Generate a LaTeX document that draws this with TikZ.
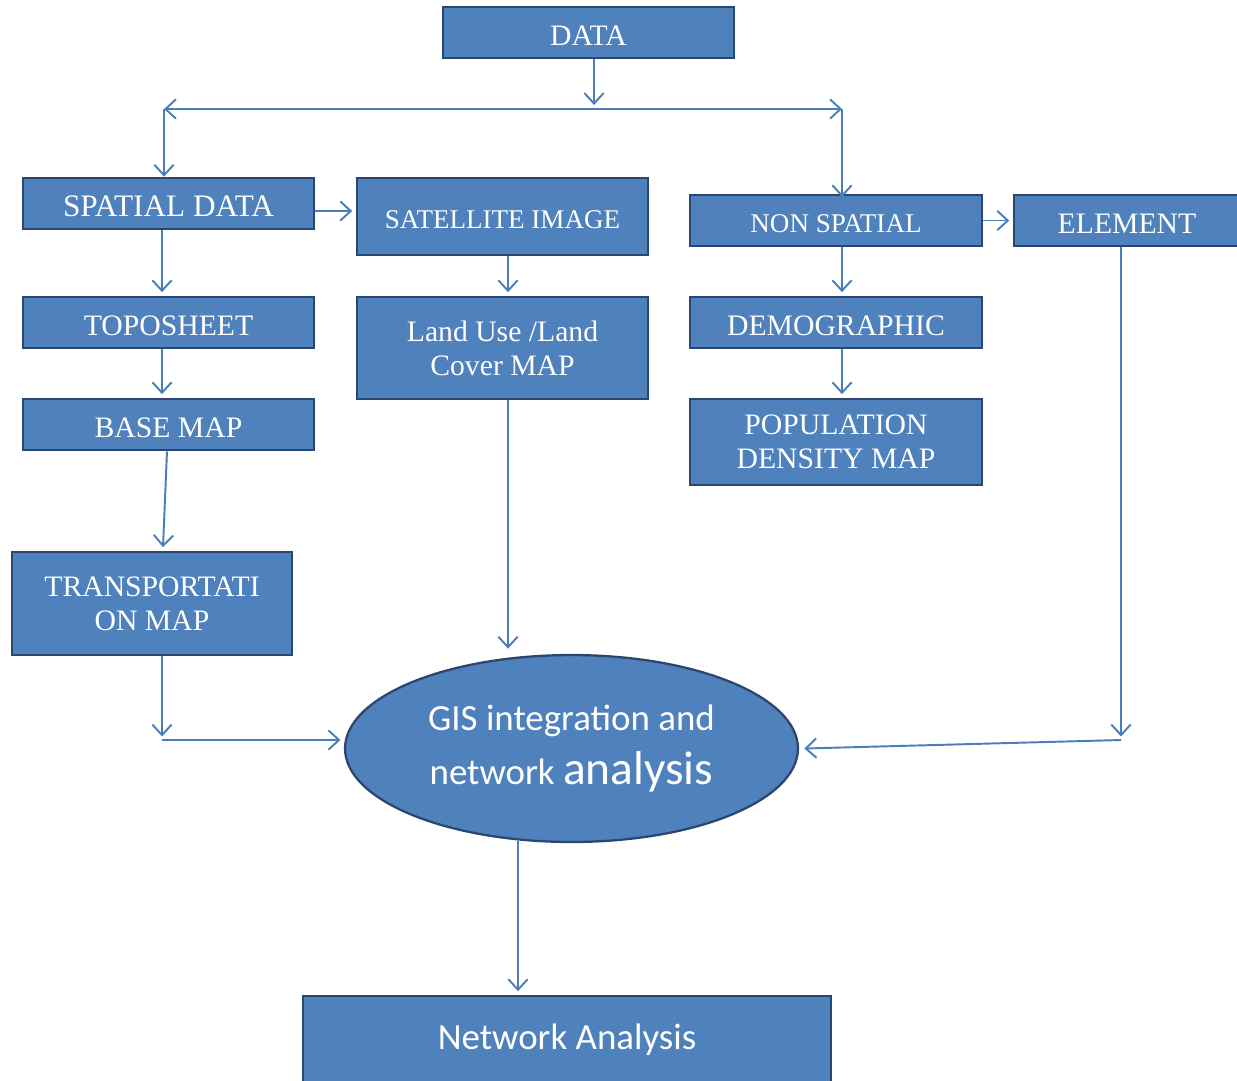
\documentclass[tikz,border=0pt]{standalone}
\usepackage{fontspec}
\setmainfont{Liberation Serif}
\newfontfamily\calib{Carlito}
\usepackage{tikz}
\usetikzlibrary{arrows.meta,shapes.geometric}
\definecolor{boxfill}{HTML}{4F81BD}
\definecolor{boxline}{HTML}{2B4770}
\definecolor{arrowblue}{HTML}{4A7EBB}
\newcommand{\lowtext}[1]{\raisebox{-1.7pt}[\height][0pt]{#1}}

\begin{document}
\begin{tikzpicture}[x=0.02cm, y=-0.02cm,
		>={Straight Barb[length=6pt,width=11pt]},
		flow/.style={draw=arrowblue, line width=1.1pt},
		box/.style={draw=boxline, line width=1.5pt, fill=boxfill, text=white, align=center, inner sep=0pt, minimum width=5.82cm, minimum height=1.02cm, font=\fontsize{16.9}{19.5}\selectfont},
		smallbox/.style={box, font=\fontsize{15.4}{18}\selectfont},
		gisblob/.style={ellipse, draw=boxline, line width=1.3pt, fill=boxfill, text=white, align=center, inner sep=0pt, minimum width=9.06cm, minimum height=3.74cm}]
			%%%%% START %%%%%
			
			\useasboundingbox (0, 0) rectangle (1237, 1080);
			
			% columns of the connectors
			\coordinate (colA) at (162, 0);
			\coordinate (colB) at (508, 0);
			\coordinate (colC) at (842, 0);
			\coordinate (colD) at (1121, 0);
			\coordinate (colM) at (594, 0);
			\coordinate (colN) at (518, 0);
			
			\node[box] (data) at (588.5, 32.5) {\lowtext{DATA}};
			\node[box, font=\fontsize{17.8}{20}\selectfont] (spatial) at (168.5, 203.5) {\lowtext{SPATIAL DATA}};
			\node[smallbox, minimum height=1.54cm] (satellite) at (502.5, 216.5) {\lowtext{SATELLITE IMAGE}};
			\node[smallbox, minimum width=5.84cm] (nonspatial) at (836, 220.5) {\lowtext{NON SPATIAL}};
			\node[box, minimum width=4.52cm] (element) at (1127, 220.5) {\lowtext{ELEMENT}};
			
			\node[box] (toposheet) at (168.5, 322.5) {\lowtext{TOPOSHEET}};
			\node[box] (basemap) at (168.5, 424.5) {\lowtext{BASE MAP}};
			\node[box, minimum height=2.04cm] (landuse) at (502.5, 348) {Land Use /Land\\Cover MAP};
			\node[box, minimum width=5.84cm] (demographic) at (836, 322.5) {\lowtext{DEMOGRAPHIC}};
			\node[box, minimum width=5.84cm, minimum height=1.72cm] (population) at (836, 442) {POPULATION\\DENSITY MAP};
			\node[box, minimum width=5.6cm, minimum height=2.06cm] (transport) at (152, 603.5) {TRANSPORTATI\\ON MAP};
			
			\node[gisblob, font=\calib\fontsize{21}{31}\selectfont] (gis) at (571.5, 748.5) {GIS integration and\\network {\fontsize{27}{31}\selectfont analysis}};
			\node[box, minimum width=10.56cm, minimum height=1.76cm, font=\calib\fontsize{21}{25}\selectfont] (netana) at (567, 1040) {Network Analysis};
			
			% split under DATA
			\coordinate (forkM) at (594, 105);
			\coordinate (forkL) at (164, 109);
			\coordinate (forkR) at (842, 109);
			\draw[flow, ->] (data.south -| colM) -- (forkM);
			\draw[flow, <->] (forkL) -- (forkR);
			\draw[flow, ->] (forkL) -- (forkL |- spatial.north);
			\draw[flow, ->] (forkR) -- ([yshift=-2pt]forkR |- nonspatial.north);
			
			% left column
			\draw[flow, ->] ([yshift=-0.15cm]spatial.east) -- ([yshift=-0.15cm, xshift=-2pt]spatial.east -| satellite.west);
			\draw[flow, ->] (spatial.south -| colA) -- ([yshift=2pt]toposheet.north -| colA);
			\draw[flow, ->] (toposheet.south -| colA) -- ([yshift=2pt]basemap.north -| colA);
			\draw[flow, ->] ([xshift=-0.03cm]basemap.south) -- ([xshift=0.22cm, yshift=2pt]transport.north);
			
			% middle column
			\draw[flow, ->] (satellite.south -| colB) -- ([yshift=2pt]landuse.north -| colB);
			\draw[flow, ->] (landuse.south -| colB) -- ([yshift=3pt]gis.north -| colB);
			
			% right columns
			\draw[flow, ->] (nonspatial.east) -- ([xshift=-2pt]element.west);
			\draw[flow, ->] (nonspatial.south -| colC) -- ([yshift=2pt]demographic.north -| colC);
			\draw[flow, ->] (demographic.south -| colC) -- ([yshift=2pt]population.north -| colC);
			
			% into the ellipse
			\coordinate (cornerT) at (162, 740);
			\coordinate (cornerE) at (1121, 740);
			\draw[flow, ->] (transport.south -| colA) -- ([yshift=2pt]cornerT);
			\draw[flow, ->] (cornerT) -- ([xshift=-2pt]cornerT -| gis.west);
			\draw[flow, ->] (element.south -| colD) -- ([yshift=2pt]cornerE);
			\draw[flow, ->] (cornerE) -- ([xshift=3pt]gis.east);
			
			% out of the ellipse
			\draw[flow, ->] ([yshift=1pt]gis.south -| colN) -- ([yshift=2pt]netana.north -| colN);
			
			%%%%% END %%%%%
		\end{tikzpicture}
\end{document}
